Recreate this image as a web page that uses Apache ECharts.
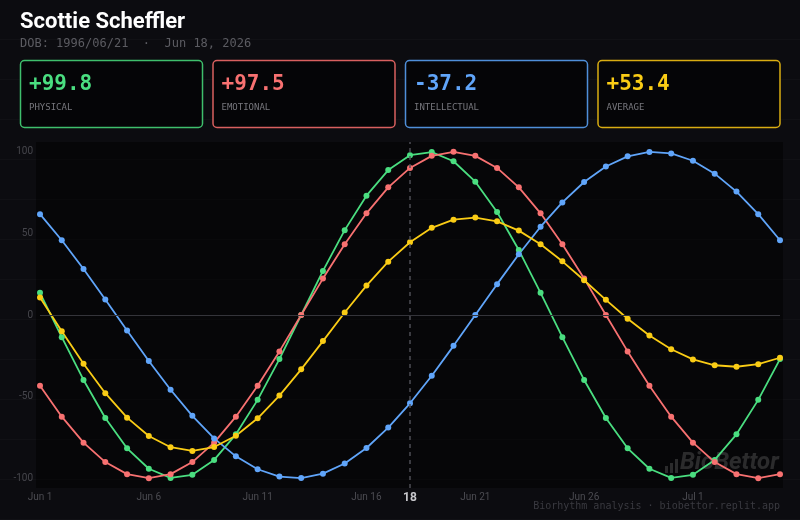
<!DOCTYPE html>
<html>
<head>
<meta charset="utf-8">
<script src="https://cdn.jsdelivr.net/npm/echarts@6/dist/echarts.min.js"></script>
<style>
  html, body { margin: 0; padding: 0; background: #0c0c10; }
  #chart { width: 800px; height: 520px; }
</style>
</head>
<body>
<div id="chart"></div>
<script>
// days shown on the x axis
var days = ['Jun 1','Jun 2','Jun 3','Jun 4','Jun 5','Jun 6','Jun 7','Jun 8','Jun 9','Jun 10',
    'Jun 11','Jun 12','Jun 13','Jun 14','Jun 15','Jun 16','Jun 17','Jun 18','Jun 19','Jun 20',
    'Jun 21','Jun 22','Jun 23','Jun 24','Jun 25','Jun 26','Jun 27','Jun 28','Jun 29','Jun 30',
    'Jul 1','Jul 2','Jul 3','Jul 4','Jul 5'];
var today = 'Jun 18';

var physical = [13.6,-13.6,-39.8,-63.1,-81.7,-94.2,-99.8,-97.9,-88.8,-73.1,-52.0,-27.0,0,27.0,52.0,
    73.1,88.8,97.9,99.8,94.2,81.7,63.1,39.8,13.6,-13.6,-39.8,-63.1,-81.7,-94.2,-99.8,-97.9,-88.8,
    -73.1,-52.0,-27.0];
var emotional = [-43.4,-62.3,-78.2,-90.1,-97.5,-100,-97.5,-90.1,-78.2,-62.3,-43.4,-22.3,0,22.3,43.4,
    62.3,78.2,90.1,97.5,100,97.5,90.1,78.2,62.3,43.4,22.3,0,-22.3,-43.4,-62.3,-78.2,-90.1,-97.5,
    -100,-97.5];
var intellectual = [61.8,45.8,28.2,9.5,-9.5,-28.2,-45.8,-61.8,-75.6,-86.6,-94.5,-99.0,-99.9,-97.2,
    -91.0,-81.5,-69.0,-54.1,-37.2,-18.9,0,18.9,37.2,54.1,69.0,81.5,91.0,97.2,99.9,99.0,94.5,86.6,
    75.6,61.8,45.8];
var average = [10.7,-10.0,-29.9,-47.9,-62.9,-74.1,-81.0,-83.3,-80.9,-74.0,-63.3,-49.4,-33.3,-16.0,
    1.5,18.0,32.7,44.6,53.4,58.4,59.7,57.4,51.7,43.3,32.9,21.3,9.3,-2.3,-12.6,-21.0,-27.2,-30.8,
    -31.7,-30.1,-26.2];

var yTicks = [-100, -50, 0, 50, 100];

var cardValues = ['+99.8', '+97.5', '-37.2', '+53.4'];
var cardLabels = ['PHYSICAL', 'EMOTIONAL', 'INTELLECTUAL', 'AVERAGE'];
var colors = ['#4ade80', '#f87171', '#60a5fa', '#facc15'];
var borders = ['#3fbf6c', '#d9605f', '#4f8fd9', '#d9ad12'];

var mono = '"DejaVu Sans Mono", monospace';

var chart = echarts.init(document.getElementById('chart'));

// page decorations: faint stripes, plot background, header, cards
var graphics = [];
for (var s = 39; s < 520; s += 40) {
    graphics.push({
        type: 'rect', z: -20, silent: true,
        shape: { x: 0, y: s, width: 800, height: 1 },
        style: { fill: 'rgba(255,255,255,0.022)' }
    });
}
graphics.push({
    type: 'rect', z: -15, silent: true,
    shape: { x: 36, y: 142, width: 747, height: 346 },
    style: { fill: 'rgba(0,0,0,0.45)' }
});
graphics.push({
    type: 'text', left: 20, top: 11,
    style: { text: 'Scottie Scheffler', fill: '#ffffff', font: 'bold 22px Roboto' }
});
graphics.push({
    type: 'text', left: 20, top: 38,
    style: { text: 'DOB: 1996/06/21  \u00b7  Jun 18, 2026', fill: '#5c5c62', font: '12px ' + mono }
});
for (var c = 0; c < 4; c++) {
    var cx = 20 + c * 192.5;
    graphics.push({
        type: 'rect', silent: true,
        shape: { x: cx + 0.5, y: 60.5, width: 182, height: 67, r: 4 },
        style: { fill: '#050507', stroke: borders[c], lineWidth: 1.5 }
    });
    graphics.push({
        type: 'text', x: cx + 9, y: 74,
        style: { text: cardValues[c], fill: colors[c], font: 'bold 21px ' + mono }
    });
    graphics.push({
        type: 'text', x: cx + 9, y: 103,
        style: { text: cardLabels[c], fill: '#77777d', font: '9px ' + mono }
    });
}
// watermark
graphics.push({
    type: 'group', z: -5, silent: true,
    children: [
        { type: 'rect', shape: { x: 665, y: 466, width: 3, height: 7 }, style: { fill: 'rgba(255,255,255,0.15)' } },
        { type: 'rect', shape: { x: 670, y: 463, width: 3, height: 10 }, style: { fill: 'rgba(255,255,255,0.15)' } },
        { type: 'rect', shape: { x: 675, y: 459, width: 3, height: 14 }, style: { fill: 'rgba(255,255,255,0.15)' } },
        { type: 'text', x: 680, y: 451,
          style: { text: 'BioBettor', fill: 'rgba(255,255,255,0.15)', font: 'italic bold 24px Roboto' } }
    ]
});
graphics.push({
    type: 'text', right: 20, top: 501,
    style: { text: 'Biorhythm analysis \u00b7 biobettor.replit.app', fill: '#3a3a40', font: '10px ' + mono }
});

function lineSeries(name, data, color) {
    return {
        name: name,
        type: 'line',
        data: data,
        symbol: 'circle',
        symbolSize: 6,
        lineStyle: { color: color, width: 1.8 },
        itemStyle: { color: color },
        silent: true
    };
}

var series = [
    lineSeries('Physical', physical, colors[0]),
    lineSeries('Emotional', emotional, colors[1]),
    lineSeries('Intellectual', intellectual, colors[2]),
    lineSeries('Average', average, colors[3])
];
series[0].markLine = {
    silent: true,
    symbol: 'none',
    label: { show: false },
    data: [
        { yAxis: 0, lineStyle: { color: '#34343a', type: 'solid', width: 1 } },
        { xAxis: today, lineStyle: { color: '#4e4e54', type: [4, 4], width: 1.5 } }
    ]
};

var option = {
    backgroundColor: '#0c0c10',
    animation: false,
    graphic: graphics,
    grid: {
        left: 40,
        right: 20,
        top: 142,
        bottom: 32
    },
    xAxis: {
        type: 'category',
        boundaryGap: false,
        data: days,
        axisLine: { show: false },
        axisTick: { show: false },
        splitLine: { show: false },
        axisLabel: {
            color: '#4c4c52',
            fontSize: 10,
            fontFamily: 'Roboto',
            margin: 4,
            interval: function (idx) { return idx % 5 === 0 || days[idx] === today; },
            formatter: function (val) {
                if (val === today) return '{hl|' + val.split(' ')[1] + '}';
                return val;
            },
            rich: {
                hl: { color: '#c8c8cc', fontSize: 12, fontWeight: 'bold', fontFamily: 'Roboto' }
            }
        }
    },
    yAxis: {
        type: 'value',
        min: -106,
        max: 106,
        axisLine: { show: false },
        axisTick: { show: false },
        splitLine: { show: false },
        axisLabel: {
            customValues: yTicks,
            color: '#46464c',
            fontSize: 10,
            fontFamily: 'Roboto',
            margin: 7
        }
    },
    series: series
};

chart.setOption(option);
</script>
</body>
</html>
